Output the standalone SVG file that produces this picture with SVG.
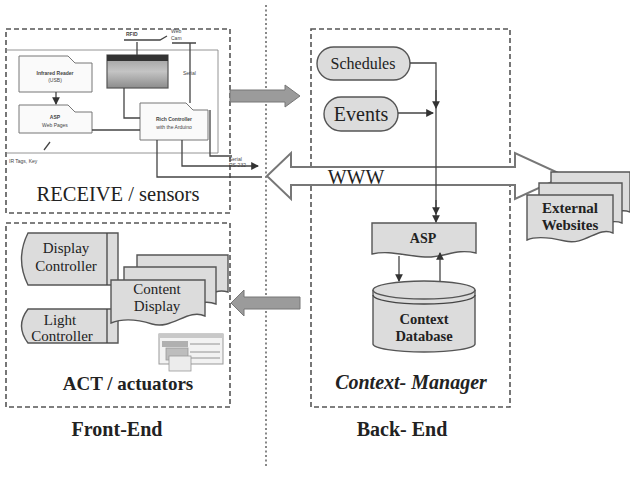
<svg xmlns="http://www.w3.org/2000/svg" width="630" height="494" viewBox="0 0 630 494">
  <style>
    .region { fill: none; stroke: #555; stroke-width: 1.6; stroke-dasharray: 5 3; }
    .divider { fill: none; stroke: #888; stroke-width: 2; stroke-dasharray: 2 2.5; }
    .shape { fill: #dcdcdc; stroke: #555; stroke-width: 1.4; }
    .plain { fill: #fafafa; stroke: #777; stroke-width: 1; }
    .wire { fill: none; stroke: #444; stroke-width: 1.3; }
    .thin { fill: none; stroke: #888; stroke-width: 0.9; }
    .serif { font-family: "Liberation Serif", "Times New Roman", serif; fill: #222; }
    .tiny { font-family: "Liberation Sans", Arial, sans-serif; font-size: 5px; fill: #444; }
  </style>
  <defs>
    <marker id="tip" viewBox="0 0 8 8" refX="7" refY="4" markerWidth="6" markerHeight="6" orient="auto-start-reverse">
      <path d="M0,0 L8,4 L0,8 Z" fill="#333"/>
    </marker>
    <linearGradient id="screen" x1="0" y1="0" x2="0" y2="1">
      <stop offset="0" stop-color="#9a9a9a"/>
      <stop offset="0.5" stop-color="#c4c4c4"/>
      <stop offset="1" stop-color="#8c8c8c"/>
    </linearGradient>
  </defs>

  <rect width="630" height="494" fill="#ffffff"/>

  <!-- front-end / back-end divider -->
  <line class="divider" x1="266" y1="5" x2="266" y2="468"/>

  <!-- RECEIVE / sensors region -->
  <g id="receive">
    <rect class="region" x="6" y="29" width="224" height="184"/>
    <path class="thin" d="M6,50 H218 V153 H6"/>
    <text class="serif" x="118" y="201" font-size="20.5" text-anchor="middle">RECEIVE / sensors</text>
  </g>

  <g id="infrared-reader">
    <path class="plain" d="M19,56 H68 L75,63 H92 V92 H19 Z"/>
    <text class="tiny" x="55" y="75" text-anchor="middle" font-weight="bold">Infrared Reader</text>
    <text class="tiny" x="55" y="82" text-anchor="middle">(USB)</text>
  </g>

  <g id="asp-sensor">
    <path class="plain" d="M19,105 H68 L75,112 H92 V133 H19 Z"/>
    <text class="tiny" x="55" y="119" text-anchor="middle" font-weight="bold">ASP</text>
    <text class="tiny" x="55" y="127" text-anchor="middle">Web Pages</text>
  </g>

  <g id="camera">
    <rect x="107" y="55" width="61" height="33" fill="url(#screen)" stroke="#555" stroke-width="1.2"/>
    <rect x="107" y="55" width="61" height="6" fill="#333"/>
    <text class="tiny" x="126" y="36" font-weight="bold">RFID</text>
    <text class="tiny" x="171" y="33">Web</text>
    <text class="tiny" x="171" y="40">Cam</text>
    <text class="tiny" x="183" y="75">Serial</text>
  </g>

  <g id="rich-controller">
    <path class="plain" d="M140,103 H186 L193,110 H208 V140 H140 Z"/>
    <text class="tiny" x="174" y="121" text-anchor="middle" font-weight="bold">Rich Controller</text>
    <text class="tiny" x="174" y="129" text-anchor="middle">with the Arduino</text>
  </g>

  <g id="receive-labels">
    <text class="tiny" x="9" y="163">IR Tags, Key</text>
    <text class="tiny" x="229" y="161">Serial</text>
    <text class="tiny" x="229" y="167">RS-232</text>
  </g>

  <!-- ACT / actuators region -->
  <g id="act">
    <rect class="region" x="6" y="223" width="224" height="184"/>
    <text class="serif" x="128" y="390" font-size="19" font-weight="bold" text-anchor="middle">ACT / actuators</text>
  </g>

  <g id="display-controller">
    <path class="shape" d="M28,233 H118 V285 H28 Q15,259 28,233 Z"/>
    <line class="wire" x1="107" y1="233" x2="107" y2="285"/>
    <text class="serif" x="66" y="253" font-size="15" text-anchor="middle">Display</text>
    <text class="serif" x="66" y="271" font-size="15" text-anchor="middle">Controller</text>
  </g>

  <g id="light-controller">
    <path class="shape" d="M28,309 H118 V343 H28 Q15,326 28,309 Z"/>
    <line class="wire" x1="107" y1="309" x2="107" y2="343"/>
    <text class="serif" x="60" y="325" font-size="15" text-anchor="middle">Light</text>
    <text class="serif" x="62" y="341" font-size="15" text-anchor="middle">Controller</text>
  </g>

  <g id="content-display">
    <path class="shape" d="M137,255 H228 V292 C215,288 210,297 200,296 L137,296 Z"/>
    <path class="shape" d="M124,267 H216 V304 C200,298 190,310 175,308 L124,308 Z"/>
    <path class="shape" d="M111,280 H205 V316 C188,308 172,330 152,324 C136,319 121,319 111,323 Z"/>
    <text class="serif" x="157" y="294" font-size="15" text-anchor="middle">Content</text>
    <text class="serif" x="157" y="311" font-size="15" text-anchor="middle">Display</text>
  </g>

  <g id="screenshot">
    <rect x="159" y="334" width="64" height="30" fill="#f2f2f2" stroke="#999" stroke-width="1"/>
    <rect x="159" y="334" width="64" height="4" fill="#c8c8c8"/>
    <rect x="162" y="341" width="26" height="6" fill="#b0b0b0"/>
    <line class="thin" x1="190" y1="344" x2="220" y2="344"/>
    <rect x="166" y="348" width="22" height="12" fill="#bdbdbd" stroke="#999" stroke-width="0.8"/>
    <line class="thin" x1="190" y1="352" x2="220" y2="352"/>
    <line class="thin" x1="190" y1="358" x2="220" y2="358"/>
    <rect x="169" y="356" width="22" height="15" fill="#ececec" stroke="#999" stroke-width="0.8"/>
  </g>

  <!-- Context-Manager region -->
  <g id="context-manager">
    <rect class="region" x="311" y="29" width="199" height="378"/>
    <text class="serif" x="411" y="389" font-size="20" font-weight="bold" font-style="italic" text-anchor="middle">Context- Manager</text>
  </g>

  <g id="schedules">
    <rect class="shape" x="317" y="47" width="93" height="33" rx="16.5"/>
    <text class="serif" x="363" y="69" font-size="16" text-anchor="middle">Schedules</text>
  </g>

  <g id="events">
    <rect class="shape" x="324" y="97" width="74" height="34" rx="17"/>
    <text class="serif" x="361" y="121" font-size="20" text-anchor="middle">Events</text>
  </g>

  <!-- WWW double arrow -->
  <g id="www">
    <path d="M267,176 L291,153 V167 H515 V153 L565,176 L515,199 V185 H291 V199 Z" fill="#ffffff" stroke="#777" stroke-width="2"/>
    <text class="serif" x="356" y="184" font-size="20" text-anchor="middle">WWW</text>
  </g>

  <g id="asp">
    <path class="shape" d="M372,223 H476 V253 C455,248 445,258 425,257 C405,256 390,250 372,254 Z"/>
    <text class="serif" x="423" y="243" font-size="14" font-weight="bold" text-anchor="middle">ASP</text>
  </g>

  <g id="context-database">
    <path class="shape" d="M373,290 V344 A51,8 0 0 0 475,344 V290"/>
    <ellipse class="shape" cx="424" cy="290" rx="51" ry="9"/>
    <path class="wire" d="M373,295 A51,9 0 0 0 475,295" stroke="#777"/>
    <text class="serif" x="424" y="324" font-size="14.5" font-weight="bold" text-anchor="middle">Context</text>
    <text class="serif" x="424" y="341" font-size="14.5" font-weight="bold" text-anchor="middle">Database</text>
  </g>

  <g id="external-websites">
    <path class="shape" d="M551,172 H630 V212 C620,208 615,214 605,214 L551,214 Z"/>
    <path class="shape" d="M539,183 H622 V223 C610,218 600,228 585,226 L539,226 Z"/>
    <path class="shape" d="M527,195 H613 V233 C598,226 585,246 565,241 C548,237 536,236 527,240 Z"/>
    <text class="serif" x="570" y="213" font-size="15" font-weight="bold" text-anchor="middle">External</text>
    <text class="serif" x="570" y="230" font-size="15" font-weight="bold" text-anchor="middle">Websites</text>
  </g>

  <!-- captions -->
  <g id="captions">
    <text class="serif" x="117" y="436" font-size="20" font-weight="bold" text-anchor="middle">Front-End</text>
    <text class="serif" x="402" y="436" font-size="20" font-weight="bold" text-anchor="middle">Back- End</text>
  </g>

  <!-- connectors -->
  <g id="connectors">
    <!-- sensor wiring -->
    <line class="wire" x1="56" y1="92" x2="56" y2="104" marker-end="url(#tip)"/>
    <path class="wire" d="M137,42 V55"/>
    <path class="wire" d="M124,40 H160 L167,36"/>
    <path class="wire" d="M172,43 H196 M190,43 V103"/>
    <path class="wire" d="M124,88 V118 H140"/>
    <path class="wire" d="M92,130 H140"/>
    <path class="wire" d="M157,140 V177 H262"/>
    <path class="wire" d="M182,140 V166 H258" marker-end="url(#tip)"/>
    <path class="wire" d="M210,110 V156 H232"/>
    <path class="wire" d="M44,150 L50,142"/>
    <!-- front-end / back-end transfers -->
    <path d="M230,90 H285 V85 L300,96 L285,107 V102 H230 Z" fill="#9b9b9b" stroke="#777" stroke-width="1"/>
    <path d="M300,297 H244 V290 L231,303 L244,316 V309 H300 Z" fill="#9b9b9b" stroke="#777" stroke-width="1"/>
    <!-- context manager flow -->
    <path class="wire" d="M410,63 H436 V222" marker-end="url(#tip)"/>
    <line class="wire" x1="436" y1="90" x2="436" y2="108" marker-end="url(#tip)"/>
    <line class="wire" x1="436" y1="200" x2="436" y2="214" marker-end="url(#tip)"/>
    <line class="wire" x1="398" y1="113" x2="433" y2="113" marker-end="url(#tip)"/>
    <line class="wire" x1="399" y1="256" x2="399" y2="281" marker-end="url(#tip)"/>
    <line class="wire" x1="440" y1="281" x2="440" y2="253" marker-end="url(#tip)"/>
  </g>
</svg>
